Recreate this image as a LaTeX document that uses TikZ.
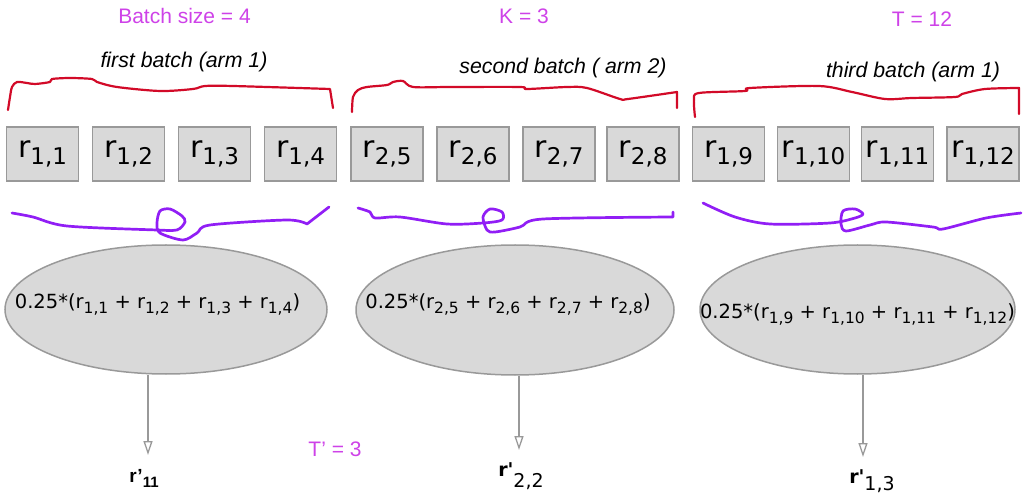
\documentclass[tikz,border=0pt]{standalone}
\usepackage{fontspec}
\setmainfont{DejaVu Sans}
\newfontfamily\lsans{Liberation Sans}
\usetikzlibrary{arrows.meta,shapes.geometric}
\definecolor{boxfill}{HTML}{D9D9D9}
\definecolor{boxline}{HTML}{999999}
\definecolor{mag}{RGB}{206,66,232}
\definecolor{bred}{RGB}{210,10,40}
\definecolor{vio}{RGB}{145,30,245}
\newcommand{\rbx}[1]{{\fontsize{30}{30}\selectfont r}\raisebox{-7pt}{\fontsize{23}{23}\selectfont #1}}
\newcommand{\rel}[1]{r\raisebox{-5pt}{\fontsize{15.5}{15.5}\selectfont #1}}
\begin{document}
\begin{tikzpicture}[x=1pt,y=-1pt,
  rbox/.style={draw=boxline, fill=boxfill, line width=1.5pt, minimum width=72pt, minimum height=54pt, inner sep=0pt},
  avg/.style={ellipse, draw=boxline, fill=boxfill, line width=1.5pt, inner sep=0pt},
  etext/.style={anchor=base, inner sep=0pt, font=\fontsize{19.5}{19.5}\selectfont},
  magl/.style={text=mag, font=\lsans\fontsize{21}{21}\selectfont, anchor=base, inner sep=0pt},
  ital/.style={font=\lsans\itshape\fontsize{21.3}{21.3}\selectfont, anchor=base, inner sep=0pt},
  outl/.style={anchor=base, inner sep=0pt},
  brace/.style={draw=bred, line width=2.2pt, line cap=round, line join=round},
  wig/.style={draw=vio, line width=2.7pt, line cap=round, line join=round},
  arr/.style={draw=boxline, line width=1.3pt, -{Triangle[open, length=14pt, width=9pt]}}]
\useasboundingbox (0,0) rectangle (1031,494);

% top labels
\node[magl] (bs) at (184.5,24) {Batch size = 4};
\node[magl] (kk) at (524,24) {K = 3};
\node[magl] (tt) at (922,27) {T = 12};
\node[magl] (tp) at (335,456) {T’ = 3};

\node[ital] (l1) at (184,68) {first batch (arm 1)};
\node[ital] (l2) at (563,74) {second batch ( arm 2)};
\node[ital] (l3) at (913,78) {third batch (arm 1)};

% red braces
\draw[brace] plot[smooth, tension=0.5] coordinates {(8,110) (10,97) (12,87) (17,82) (27,83) (35,84) (50,82) (52,79) (70,78) (92,79) (97,82) (117,87) (160,91) (193,89) (205,86) (233,86) (330,89)} -- (333,108);
\draw[brace] plot[smooth, tension=0.5] coordinates {(352,112) (353,97) (358,90) (367,87) (387,85) (393,82) (403,81) (413,87) (450,87) (520,87) (527,89) (567,87) (587,88) (620,99) (628,99) (677,92)} -- (677,108);
\draw[brace] plot[smooth, tension=0.5] coordinates {(695,117) (694,100) (699,93) (745,91) (750,88) (819,86) (852,92) (885,99) (912,98) (955,97) (962,94) (985,89) (1019,88)} -- (1019,114);

% boxes
\foreach \i/\x/\t in {1/42.5/{1,1}, 2/128.5/{1,2}, 3/214.5/{1,3}, 4/300.5/{1,4},
                      5/387/{2,5}, 6/473/{2,6}, 7/559/{2,7}, 8/643/{2,8},
                      9/728.5/{1,9}, 10/813.5/{1,10}, 11/897.5/{1,11}, 12/983/{1,12}}
  \node[rbox] (b\i) at (\x,154) {\rbx{\t}};

% violet wiggles
\draw[wig] plot[smooth, tension=0.5] coordinates {(12,213) (33,217) (67,226) (157,230) (177,230) (185,222) (182,216) (170,209) (160,211) (157,223) (160,233) (183,240) (197,233) (210,225) (287,220) (307,224)} -- (329,207);
\draw[wig] plot[smooth, tension=0.5] coordinates {(358,208) (370,212) (375,218) (400,217) (447,224) (483,223) (502,220) (502,212) (490,209) (483,217) (487,230) (495,232) (520,227) (543,219) (673,217)} -- (673,212);
\draw[wig] plot[smooth, tension=0.5] coordinates {(703,203) (735,217) (770,224) (830,223) (855,218) (863,214) (855,209) (843,211) (841,224) (846,231) (870,225) (886,222) (933,227) (943,229) (986,218) (1021,213)};

% ellipses
\node[avg, minimum width=322pt, minimum height=129pt] (e1) at (166,309.5) {};
\node[avg, minimum width=318pt, minimum height=130pt] (e2) at (515,310) {};
\node[avg, minimum width=315pt, minimum height=129pt] (e3) at (857.5,309.5) {};

\node[etext] (t1) at (157.5,309) {0.25*(\rel{1,1} + \rel{1,2} + \rel{1,3} + \rel{1,4})};
\node[etext] (t2) at (508,309) {0.25*(\rel{2,5} + \rel{2,6} + \rel{2,7} + \rel{2,8})};
\node[etext] (t3) at (857.5,319) {0.25*(\rel{1,9} + \rel{1,10} + \rel{1,11} + \rel{1,12})};

% outputs
\node[outl, font=\lsans\bfseries\fontsize{19}{19}\selectfont] (o1) at (144,482) {r’\raisebox{-5pt}{\fontsize{15}{15}\selectfont 11}};
\node[outl] (o2) at (521,476) {{\bfseries\fontsize{19}{19}\selectfont r\textquotesingle}\raisebox{-11pt}{\fontsize{19}{19}\selectfont 2,2}};
\node[outl] (o3) at (872,483) {{\bfseries\fontsize{19}{19}\selectfont r\textquotesingle}\raisebox{-7pt}{\fontsize{19}{19}\selectfont 1,3}};

\coordinate (a1) at (148,455);
\coordinate (a2) at (519,450);
\coordinate (a3) at (863,457);
\draw[arr] (e1.south -| a1) -- (a1);
\draw[arr] (e2.south -| a2) -- (a2);
\draw[arr] (e3.south -| a3) -- (a3);
\end{tikzpicture}
\end{document}
